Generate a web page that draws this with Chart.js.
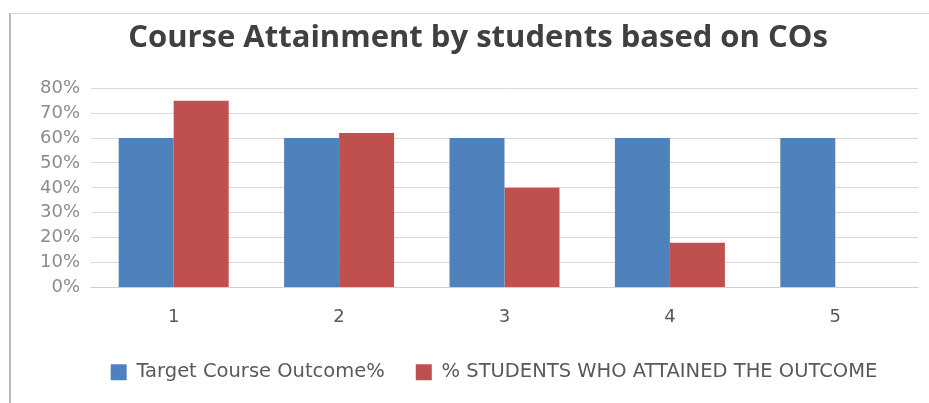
<!DOCTYPE html>
<html>
<head>
<meta charset="utf-8">
<title>Course Attainment</title>
<script src="https://cdn.jsdelivr.net/npm/chart.js@4.4.1/dist/chart.umd.min.js"></script>
<style>
  html, body { margin: 0; padding: 0; background: #fff; }
  /* chart frame: only the left and top edges show */
  #frame {
    position: absolute; left: 9px; top: 13px; width: 920px; height: 390px;
    border-left: 2px solid #b8b8b8; border-top: 1px solid #d6d6d6;
  }
  #coChart { position: absolute; left: 0; top: 0; }
</style>
</head>
<body>
<div id="frame"></div>
<canvas id="coChart" width="929" height="403"></canvas>
<script>
// CO numbers on the x axis
const outcomes = ['1', '2', '3', '4', '5'];
// target level per CO (%)
const targetPct = [60, 60, 60, 60, 60];
// share of students who reached each CO (%)
const attainedPct = [75, 62, 40, 18, 0];
// y axis steps
const yTicks = [0, 10, 20, 30, 40, 50, 60, 70, 80];

const seriesNames = ['Target Course Outcome%', '% STUDENTS WHO ATTAINED THE OUTCOME'];

const labelFont = 'DejaVu Sans';

// nudge the bottom legend a little to the right of the canvas centre
const legendShift = {
    id: 'legendShift',
    afterLayout(chart) {
        chart.legend.left += 16;
        chart.legend.right += 16;
    }
};

new Chart(document.getElementById('coChart').getContext('2d'), {
    type: 'bar',
    data: {
        labels: outcomes,
        datasets: [
            {
                label: seriesNames[0],
                data: targetPct,
                backgroundColor: '#4F81BD'
            },
            {
                label: seriesNames[1],
                data: attainedPct,
                backgroundColor: '#C0504D'
            }
        ]
    },
    options: {
        responsive: false,
        animation: false,
        layout: { padding: { left: 38, right: 11, top: 10, bottom: 11 } },
        datasets: {
            bar: { categoryPercentage: 0.665, barPercentage: 1.0 }
        },
        scales: {
            x: {
                afterFit: axis => { axis.height = 44; },
                grid: { display: false, drawTicks: false },
                border: { color: '#d0d0d0' },
                ticks: {
                    color: '#595959',
                    padding: 19,
                    font: { family: labelFont, size: 18 }
                }
            },
            y: {
                min: 0,
                max: 80,
                afterBuildTicks: axis => { axis.ticks = yTicks.map(v => ({ value: v })); },
                afterFit: axis => { axis.width = 53; },
                grid: { color: '#d9d9d9', drawTicks: false },
                border: { display: false },
                ticks: {
                    autoSkip: false,
                    color: '#8c8c8c',
                    padding: 11,
                    font: { family: labelFont, size: 18 },
                    callback: v => v + '%'
                }
            }
        },
        plugins: {
            title: {
                display: true,
                text: 'Course Attainment by students based on COs',
                color: '#404040',
                font: { family: 'Open Sans', size: 31, weight: 'bold' },
                padding: { top: 10, bottom: 31 }
            },
            legend: {
                position: 'bottom',
                labels: {
                    boxWidth: 16,
                    boxHeight: 16,
                    padding: 31,
                    color: '#595959',
                    font: { family: labelFont, size: 19.5 }
                }
            },
            tooltip: { enabled: false }
        }
    },
    plugins: [legendShift]
});
</script>
</body>
</html>
